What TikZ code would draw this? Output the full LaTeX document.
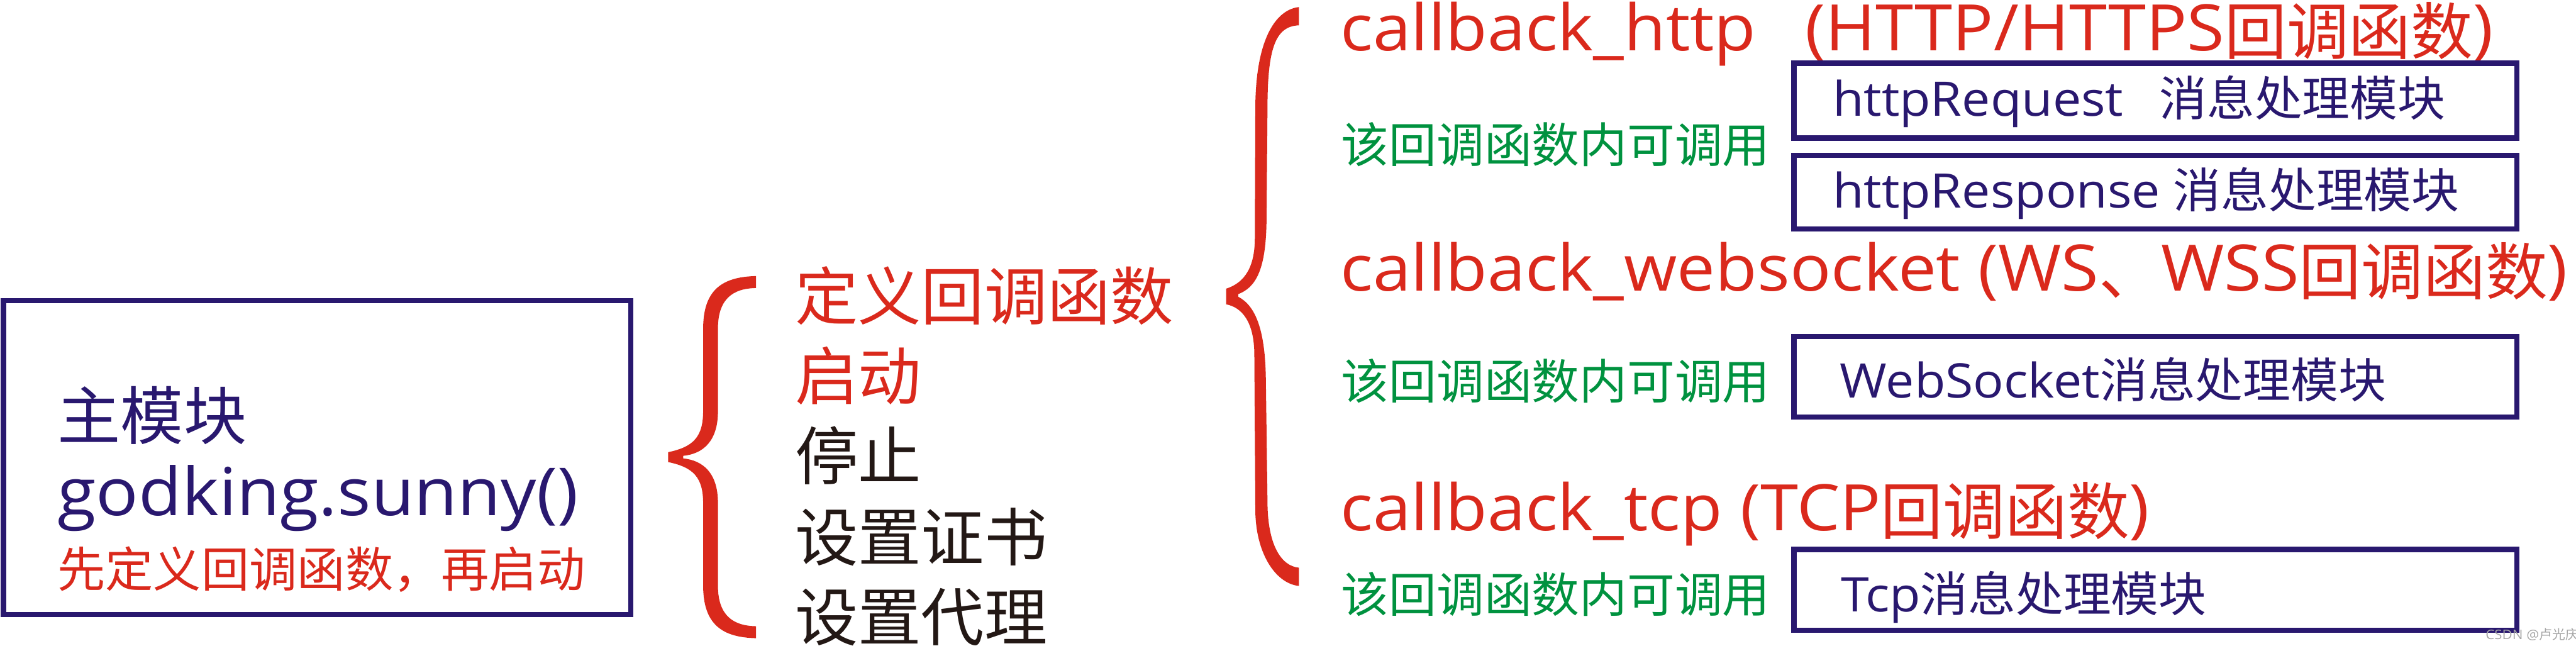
\documentclass[tikz,border=0pt]{standalone}
\usepackage{fontspec}
\setmainfont{Open Sans}[FakeStretch=1.065]
\newfontfamily\cjk{Noto Sans CJK SC}
\newcommand\fsz[1]{\fontsize{#1}{#1}\selectfont}
\newcommand\bigcjk[1]{\raisebox{-2.3pt}{\cjk\fsz{37.8}#1}}
\definecolor{cred}{RGB}{218,41,28}
\definecolor{cblue}{RGB}{41,24,111}
\definecolor{cgreen}{RGB}{0,146,63}
\definecolor{cblack}{RGB}{35,24,21}
\tikzset{
  txt/.style={inner sep=0pt, outer sep=0pt, anchor=base west},
  bluebox/.style={draw=cblue, line width=3.3pt, inner sep=0pt, minimum width=440pt},
}
\begin{document}
\begin{tikzpicture}[x=1pt,y=-1pt]
\useasboundingbox (0,0) rectangle (1568,393);
% main box
\node[bluebox, minimum width=382pt, minimum height=191pt] (mainbox) at (193,278.5) {};
\node[txt, text=cblue, font=\cjk\fsz{38.4}] (mainT) at (35,267.3) {主模块};
\node[txt, text=cblue, font=\fsz{40.3}] (mainF) at (35,313.8) {godking.sunny()};
\node[txt, text=cred, font=\cjk\fsz{29.2}] (mainN) at (35,357.2) {先定义回调函数，再启动};
% left brace
\fill[cred] (460.2,168) .. controls (440,168.5) and (428,176) .. (428,200)
  -- (428,250) .. controls (428,266) and (422,272) .. (406.7,275.2)
  -- (406.7,281.2) .. controls (422,284.4) and (428,290.4) .. (428,306.4)
  -- (428,356.4) .. controls (428,380.4) and (440,387.9) .. (460.2,388.4)
  -- (460.2,381.1) .. controls (446,380.9) and (437,374.4) .. (437,356.4)
  -- (437,306) .. controls (437,288) and (428,280.2) .. (415.9,279)
  -- (415.9,277.4) .. controls (428,276.2) and (437,268.4) .. (437,250.4)
  -- (437,200) .. controls (437,182) and (446,175.5) .. (460.2,175.3) -- cycle;
% middle items
\node[txt, text=cred, font=\cjk\fsz{38.4}] (m1) at (484,194.7) {定义回调函数};
\node[txt, text=cred, font=\cjk\fsz{38.4}] (m2) at (484,243.3) {启动};
\node[txt, text=cblack, font=\cjk\fsz{38.4}] (m3) at (484,291.9) {停止};
\node[txt, text=cblack, font=\cjk\fsz{38.4}] (m4) at (484,341.1) {设置证书};
\node[txt, text=cblack, font=\cjk\fsz{38.4}] (m5) at (484,389.8) {设置代理};
% right brace
\fill[cred] (790.6,4.3) .. controls (776,6) and (764.1,25) .. (764.1,66.4)
  -- (763.8,145) .. controls (763.8,162) and (758,172) .. (746.3,175.7)
  -- (746.3,185.2) .. controls (756,187) and (763.5,196) .. (763.5,216)
  -- (764.1,310) .. controls (764.1,336) and (776,355) .. (790.6,356.6)
  -- (790.6,345.5) .. controls (780,344.5) and (771.5,332) .. (771.5,305)
  -- (770.5,230) .. controls (770,200) and (764,186) .. (753.7,180.6)
  -- (753.7,179) .. controls (764,175) and (770.5,165) .. (770.9,135)
  -- (771.5,66.4) .. controls (771.5,30) and (776,16) .. (790.6,15.4) -- cycle;
% callbacks
\node[txt, text=cred, font=\fsz{39}] (cb1) at (816,30.8) {callback\_http\hspace{30pt}(HTTP/HTTPS\bigcjk{回调函数})};
\node[txt, text=cred, font=\fsz{39}] (cb2) at (816,177) {callback\_websocket (WS\bigcjk{、}WSS\bigcjk{回调函数})};
\node[txt, text=cred, font=\fsz{39}] (cb3) at (816,323) {callback\_tcp (TCP\bigcjk{回调函数})};
% green notes
\node[txt, text=cgreen, font=\cjk\fsz{29}] (g1) at (816.5,99) {该回调函数内可调用};
\node[txt, text=cgreen, font=\cjk\fsz{29}] (g2) at (816.5,243) {该回调函数内可调用};
\node[txt, text=cgreen, font=\cjk\fsz{29}] (g3) at (816.5,372.7) {该回调函数内可调用};
% module boxes
\node[bluebox, minimum height=45.5pt] (reqbox) at (1312,61.25) {};
\node[bluebox, minimum height=44.8pt] (respbox) at (1312,116.9) {};
\node[bluebox, minimum height=48.9pt] (wsbox) at (1312,229.3) {};
\node[bluebox, minimum height=49.2pt] (tcpbox) at (1312,359) {};
\node[txt, text=cblue, font=\fsz{29}] (t1) at (1115.5,70.8) {httpRequest\hspace{22pt}{\cjk 消息处理模块}};
\node[txt, text=cblue, font=\fsz{29}] (t2) at (1115.5,126.7) {httpResponse {\cjk 消息处理模块}};
\node[txt, text=cblue, font=\fsz{29}] (t3) at (1120,242.2) {WebSocket{\cjk 消息处理模块}};
\node[txt, text=cblue, font=\fsz{29}] (t4) at (1120.5,372.2) {Tcp{\cjk 消息处理模块}};
% watermark
\node[txt, text=black!35, font=\fsz{8}] (wm) at (1513,389.3) {CSDN @{\cjk 卢光庆}};
\end{tikzpicture}
\end{document}
